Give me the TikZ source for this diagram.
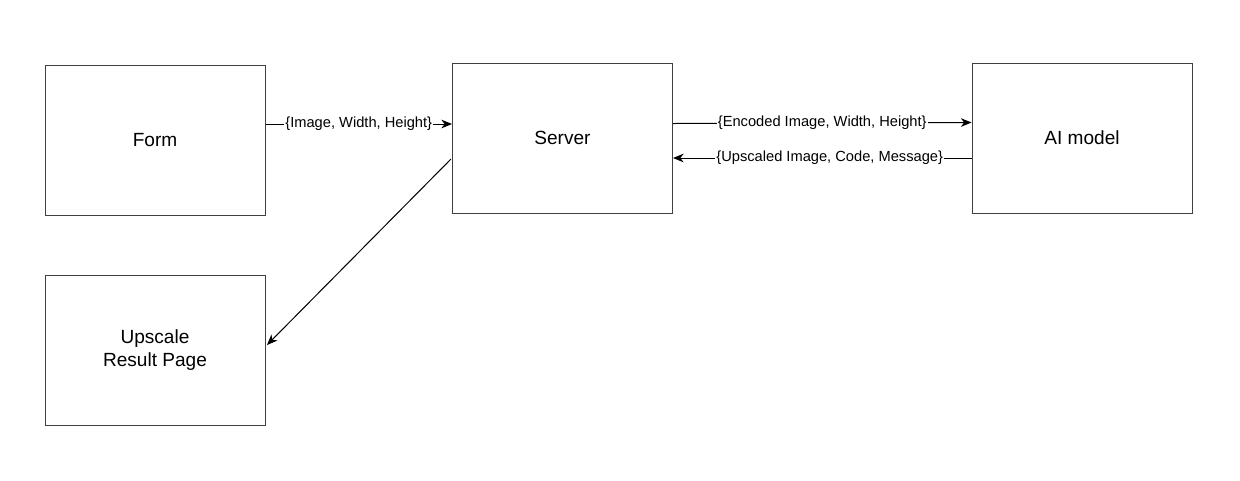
\documentclass[tikz,border=0pt]{standalone}
\usepackage{fontspec}
\setmainfont{Liberation Sans}
\usetikzlibrary{arrows.meta}
\begin{document}
\begin{tikzpicture}[x=0.75pt,y=-0.75pt,
  box/.style={draw=black!75,line width=0.75pt,minimum width=165pt,minimum height=112.5pt,inner sep=0pt,align=center,font=\fontsize{14.3}{17}\selectfont},
  conn/.style={draw=black,line width=0.75pt,-{Stealth[length=8pt,width=6.5pt,inset=2.5pt]}},
  lab/.style={fill=white,inner sep=1pt,font=\fontsize{11}{13}\selectfont}]
\useasboundingbox (0,0) rectangle (1240,480);
\node[box] (form) at (155,140) {Form};
\node[box] (server) at (562.5,138) {Server};
\node[box] (ai) at (1082,138) {AI model};
\node[box] (result) at (155,350) {Upscale\\Result Page};
\draw[conn] (form.east |- 0,124) -- node[lab] {\{Image, Width, Height\}} (server.west |- 0,124);
\draw[conn] (server.east |- 0,123.5) -- node[lab] {\{Encoded Image, Width, Height\}} (ai.west |- 0,122.5);
\draw[conn] (ai.west |- 0,158) -- node[lab,pos=0.475] {\{Upscaled Image, Code, Message\}} (server.east |- 0,158);
\coordinate (dstart) at (451,159);
\coordinate (dend) at (267,345);
\draw[conn] (dstart) -- (dend);
\end{tikzpicture}
\end{document}
